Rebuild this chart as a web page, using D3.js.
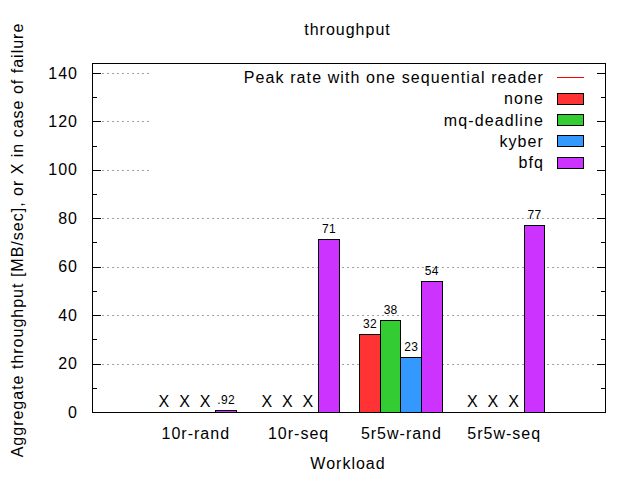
<!DOCTYPE html>
<html><head><meta charset="utf-8">
<script src="https://cdn.jsdelivr.net/npm/d3@7"></script>
<style>
body{margin:0;background:#fff;}
svg{display:block;font-family:"Liberation Sans",Arial,sans-serif;}
text{fill:#000;}
</style></head>
<body>
<svg id="chart" width="640" height="480"></svg>
<script>
const categories = ["10r-rand", "10r-seq", "5r5w-rand", "5r5w-seq"];
const seriesNames = ["none", "mq-deadline", "kyber", "bfq"];
const seriesColors = ["#ff3333", "#33cc33", "#3399ff", "#cc33ff"];
// values per series, one per category; null = failure (X)
const noneVals = [null, null, 32.4, null];
const mqVals = [null, null, 37.9, null];
const kyberVals = [null, null, 22.7, null];
const bfqVals = [0.92, 71.4, 54.1, 77.4];
const seriesValues = [noneVals, mqVals, kyberVals, bfqVals];
const yTicks = [0, 20, 40, 60, 80, 100, 120, 140];
const yMinorTicks = [10, 30, 50, 70, 90, 110, 130];
const titleText = "throughput";
const xLabel = "Workload";
const yLabel = "Aggregate throughput [MB/sec], or X in case of failure";
const peakLabel = "Peak rate with one sequential reader";

const svg = d3.select("#chart");
const L = 92, R = 606, T = 63, B = 412;
const x = d3.scaleLinear().domain([-1, categories.length]).range([L, R]);
const y = d3.scaleLinear().domain([0, 144.1]).range([B, T]);
const nS = seriesNames.length;
const bw = 1 / (nS + 1);

// grid
svg.append("g").selectAll("line").data(yTicks.filter(d => d > 0)).join("line")
  .attr("x1", L).attr("x2", R)
  .attr("y1", d => Math.round(y(d)) + 0.5).attr("y2", d => Math.round(y(d)) + 0.5)
  .attr("stroke", "#a0a0a0").attr("stroke-width", 1).attr("stroke-dasharray", "2,3");

// bars & labels
const marks = [];
categories.forEach((c, i) => {
  seriesValues.forEach((vals, j) => {
    marks.push({ i, j, v: vals[i] });
  });
});
const fmt = v => v < 1 ? d3.format(".2f")(v).replace(/^0/, "") : String(Math.round(v));
const gBars = svg.append("g");
marks.filter(m => m.v != null).forEach(m => {
  const cx = m.i + (m.j - (nS - 1) / 2) * bw;
  const x0 = Math.round(x(cx - bw / 2)) + 0.5, x1 = Math.round(x(cx + bw / 2)) + 0.5;
  const y0 = Math.round(y(m.v)) + 0.5;
  gBars.append("rect").attr("x", x0).attr("y", y0).attr("width", x1 - x0).attr("height", B + 0.5 - y0)
    .attr("fill", seriesColors[m.j]).attr("stroke", "#000").attr("stroke-width", 1);
  gBars.append("text").attr("x", x(cx) + 0.5).attr("y", y(m.v) - 6)
    .attr("text-anchor", "middle").attr("font-size", 12).attr("letter-spacing", "0.3px").text(fmt(m.v));
});
marks.filter(m => m.v == null).forEach(m => {
  const cx = m.i + (m.j - (nS - 1) / 2) * bw;
  gBars.append("text").attr("x", x(cx)).attr("y", B - 5)
    .attr("text-anchor", "middle").attr("font-size", 16).text("X");
});

// legend background
svg.append("rect").attr("x", 150).attr("y", T + 1).attr("width", R - 150).attr("height", 111).attr("fill", "#fff");
const legendItems = [{ label: peakLabel, type: "line", color: "#ff0000" }]
  .concat(seriesNames.map((s, k) => ({ label: s, type: "box", color: seriesColors[k] })));
const lg = svg.append("g");
legendItems.forEach((it, k) => {
  const cy = 77.3 + k * 21.35;
  lg.append("text").attr("x", 544).attr("y", cy).attr("dy", "0.35em")
    .attr("text-anchor", "end").attr("font-size", 16).attr("letter-spacing", "1.1px").text(it.label);
  if (it.type === "line") {
    lg.append("line").attr("x1", 557).attr("x2", 584).attr("y1", Math.round(cy) + 0.5).attr("y2", Math.round(cy) + 0.5)
      .attr("stroke", it.color).attr("stroke-width", 1);
  } else {
    lg.append("rect").attr("x", 557.5).attr("y", Math.round(cy) - 5.5).attr("width", 26).attr("height", 11)
      .attr("fill", it.color).attr("stroke", "#000").attr("stroke-width", 1);
  }
});

// axes ticks (inward, both sides)
const tg = svg.append("g").attr("stroke", "#000").attr("stroke-width", 1);
yTicks.forEach(d => {
  const yy = Math.round(y(d)) + 0.5;
  tg.append("line").attr("x1", L).attr("x2", L + 9).attr("y1", yy).attr("y2", yy);
  tg.append("line").attr("x1", R - 9).attr("x2", R).attr("y1", yy).attr("y2", yy);
});
yMinorTicks.forEach(d => {
  const yy = Math.round(y(d)) + 0.5;
  tg.append("line").attr("x1", L).attr("x2", L + 5).attr("y1", yy).attr("y2", yy);
  tg.append("line").attr("x1", R - 5).attr("x2", R).attr("y1", yy).attr("y2", yy);
});
svg.append("rect").attr("x", L + 0.5).attr("y", T + 0.5).attr("width", R - L - 1).attr("height", B - T)
  .attr("fill", "none").attr("stroke", "#000").attr("stroke-width", 1);

// tick labels
svg.append("g").selectAll("text").data(yTicks).join("text")
  .attr("x", 78).attr("y", d => y(d)).attr("dy", "0.35em").attr("text-anchor", "end")
  .attr("font-size", 16).attr("letter-spacing", "1px").text(d => d);
svg.append("g").selectAll("text").data(categories).join("text")
  .attr("x", (d, i) => x(i) + 1).attr("y", 438.5).attr("text-anchor", "middle")
  .attr("font-size", 16).attr("letter-spacing", "1px").text(d => d);

// titles
svg.append("text").attr("x", 347.5).attr("y", 35).attr("text-anchor", "middle")
  .attr("font-size", 16).attr("letter-spacing", "1px").text(titleText);
svg.append("text").attr("x", 348).attr("y", 469).attr("text-anchor", "middle")
  .attr("font-size", 16).attr("letter-spacing", "1px").text(xLabel);
svg.append("text").attr("transform", "translate(23,240) rotate(-90)").attr("text-anchor", "middle")
  .attr("font-size", 16).attr("letter-spacing", "1px").text(yLabel);
</script>
</body></html>
